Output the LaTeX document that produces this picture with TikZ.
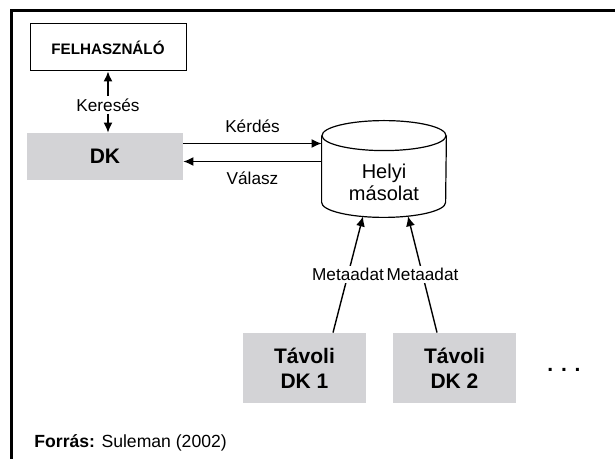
\documentclass[tikz,border=0pt]{standalone}
\usepackage{fontspec}
\setmainfont{Liberation Sans}
\usetikzlibrary{arrows.meta}
\definecolor{boxgray}{RGB}{211,211,214}
\tikzset{arr/.style = {line width = 0.7pt, -{Latex[length=5pt, width=4.5pt]}}}
\tikzset{dkbox/.style = {fill = boxgray, minimum width = 61.5pt, minimum height = 35pt, align = center, font = \fontsize{10.5}{12.5}\selectfont\bfseries}}
\tikzset{lbl/.style = {font = \fontsize{8.6}{10}\selectfont, inner sep = 1pt}}
\def\W{615}
\def\H{459}
\def\R{62}
\def\r{15}

\begin{document}
\begin{tikzpicture}[x=0.5pt, y=-0.5pt]
		% Size
		\useasboundingbox (0,0) rectangle (\W,\H);
		
		% Frame
		\draw[line width = 1.5pt] (\W,11) -- (11.5,11) -- (11.5,\H);
		
		% Boxes
		\node[draw, line width = 0.5pt, minimum width = 78pt, minimum height = 23.5pt, font = \fontsize{7.6}{9}\selectfont\bfseries] (felh) at (108,47.5) {FELHASZNÁLÓ};
		\node[dkbox, minimum width = 78pt, minimum height = 23.5pt] (dk) at (105,156.5) {DK};
		\node[dkbox] (rem1) at (304.5,368) {Távoli\\DK 1};
		\node[dkbox] (rem2) at (454.5,368) {Távoli\\DK 2};
		\node[font = \fontsize{10.5}{12}\selectfont\bfseries] (dots) at (564,370) {. . .};
		
		% Database
		\node[minimum width = 62pt, minimum height = 33pt, inner sep = 0pt] (helyi) at (384,169) {};
		\draw[line width = 0.6pt] (helyi.north west) -- (helyi.south west) arc[start angle = 180, end angle = 0, x radius = \R, y radius = \r] -- (helyi.north east);
		\draw[line width = 0.6pt] (helyi.north) ellipse[x radius = \R, y radius = \r];
		\node[align = center, font = \fontsize{10}{11}\selectfont] (helyitxt) at (384,182) {Helyi\\másolat};
		
		% Keresés
		\node[lbl] (kereses) at (108,105) {Keresés};
		\draw[arr] (kereses.north) -- (felh.south);
		\draw[arr] (kereses.south) -- (kereses.south |- dk.north);
		
		% Kérdés / Válasz
		\draw[arr] ([yshift=6.5pt]dk.east) -- ([yshift=6.5pt]dk.east -| helyi.west) node[lbl, midway, above = 4pt] {Kérdés};
		\draw[arr] ([yshift=-2.5pt]dk.east -| helyi.west) -- ([yshift=-2.5pt]dk.east) node[lbl, midway, below = 4pt] {Válasz};
		
		% Metaadat
		\draw[arr] ([xshift=14.25pt]rem1.north) -- ([xshift=-10.5pt, yshift=-7pt]helyi.south) node[lbl, pos = 0.5, fill = white] {Metaadat};
		\draw[arr] ([xshift=-8.75pt]rem2.north) -- ([xshift=12pt, yshift=-6.9pt]helyi.south) node[lbl, pos = 0.5, fill = white] {Metaadat};
		
		% Source
		\node[lbl, anchor = west, font = \fontsize{8.8}{10}\selectfont] (forras) at (32,443) {\textbf{Forrás:} Suleman (2002)};
	\end{tikzpicture}
\end{document}
